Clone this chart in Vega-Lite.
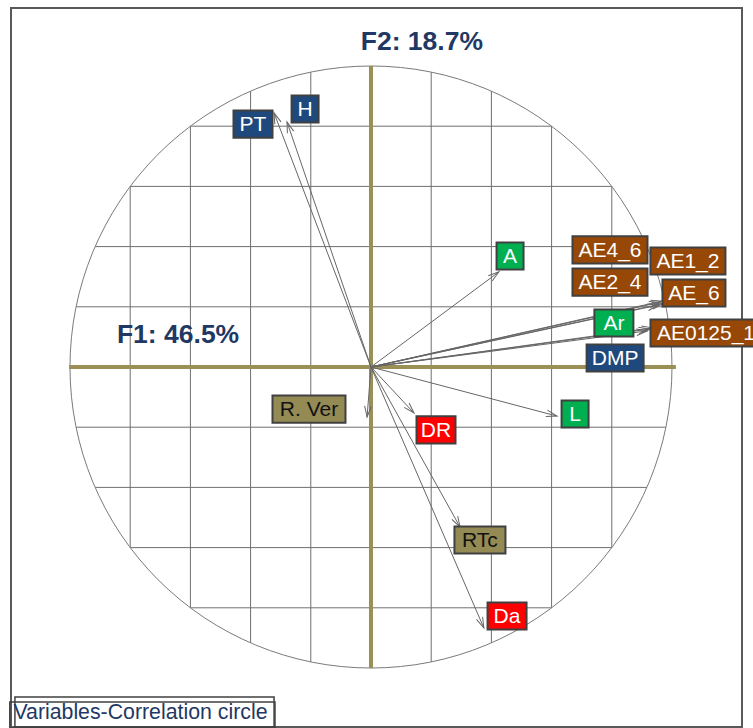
{
  "$schema": "https://vega.github.io/schema/vega-lite/v6.json",
  "width": 731,
  "height": 719,
  "autosize": {"type": "none"},
  "padding": {"left": 11, "top": 8, "right": 11, "bottom": 1},
  "background": "white",
  "config": {"view": {"stroke": "#595959", "strokeWidth": 2}},
  "datasets": {
    "vars": [
      {"label": "PT", "x": -0.322, "y": 0.844, "lx": -0.392, "ly": 0.807, "group": "G1"},
      {"label": "H", "x": -0.279, "y": 0.814, "lx": -0.219, "ly": 0.857, "group": "G1"},
      {"label": "A", "x": 0.425, "y": 0.316, "lx": 0.462, "ly": 0.369, "group": "G2"},
      {"label": "AE4_6", "x": 0.960, "y": 0.215, "lx": 0.794, "ly": 0.389, "group": "G3"},
      {"label": "AE1_2", "x": 0.966, "y": 0.219, "lx": 1.053, "ly": 0.352, "group": "G3"},
      {"label": "AE2_4", "x": 0.955, "y": 0.206, "lx": 0.794, "ly": 0.282, "group": "G3"},
      {"label": "AE_6", "x": 0.970, "y": 0.211, "lx": 1.073, "ly": 0.246, "group": "G3"},
      {"label": "Ar", "x": 0.925, "y": 0.126, "lx": 0.807, "ly": 0.146, "group": "G2"},
      {"label": "AE0125_1", "x": 0.935, "y": 0.130, "lx": 1.113, "ly": 0.113, "group": "G3"},
      {"label": "DMP", "x": 0.918, "y": 0.120, "lx": 0.811, "ly": 0.030, "group": "G1"},
      {"label": "L", "x": 0.618, "y": -0.163, "lx": 0.678, "ly": -0.156, "group": "G2"},
      {"label": "R. Ver", "x": -0.013, "y": -0.166, "lx": -0.206, "ly": -0.140, "group": "G4"},
      {"label": "DR", "x": 0.143, "y": -0.153, "lx": 0.216, "ly": -0.209, "group": "G5"},
      {"label": "RTc", "x": 0.296, "y": -0.532, "lx": 0.362, "ly": -0.575, "group": "G4"},
      {"label": "Da", "x": 0.375, "y": -0.867, "lx": 0.452, "ly": -0.827, "group": "G5"}
    ],
    "grid": [
      {"x1": -0.8, "x2": -0.8, "y1": -0.6, "y2": 0.6},
      {"x1": -0.6, "x2": -0.6, "y1": -0.8, "y2": 0.8},
      {"x1": -0.4, "x2": -0.4, "y1": -0.9165, "y2": 0.9165},
      {"x1": -0.2, "x2": -0.2, "y1": -0.9798, "y2": 0.9798},
      {"x1": 0.2, "x2": 0.2, "y1": -0.9798, "y2": 0.9798},
      {"x1": 0.4, "x2": 0.4, "y1": -0.9165, "y2": 0.9165},
      {"x1": 0.6, "x2": 0.6, "y1": -0.8, "y2": 0.8},
      {"x1": 0.8, "x2": 0.8, "y1": -0.6, "y2": 0.6},
      {"y1": -0.8, "y2": -0.8, "x1": -0.6, "x2": 0.6},
      {"y1": -0.6, "y2": -0.6, "x1": -0.8, "x2": 0.8},
      {"y1": -0.4, "y2": -0.4, "x1": -0.9165, "x2": 0.9165},
      {"y1": -0.2, "y2": -0.2, "x1": -0.9798, "x2": 0.9798},
      {"y1": 0.2, "y2": 0.2, "x1": -0.9798, "x2": 0.9798},
      {"y1": 0.4, "y2": 0.4, "x1": -0.9165, "x2": 0.9165},
      {"y1": 0.6, "y2": 0.6, "x1": -0.8, "x2": 0.8},
      {"y1": 0.8, "y2": 0.8, "x1": -0.6, "x2": 0.6}
    ],
    "axes": [
      {"x1": -1.003, "x2": 1.013, "y1": 0, "y2": 0},
      {"x1": 0, "x2": 0, "y1": -1.0, "y2": 1.0}
    ],
    "titles": [
      {"text": "F2: 18.7%", "x": 0.169, "y": 1.080},
      {"text": "F1: 46.5%", "x": -0.641, "y": 0.106}
    ],
    "caption": [
      {"text": "Variables-Correlation circle", "x": -1.188, "y": -1.150}
    ],
    "capbox": [
      {"x1": -1.183, "x2": -0.322, "y1": -1.096, "y2": -1.196},
      {"x1": -1.2, "x2": -0.319, "y1": -1.113, "y2": -1.199}
    ],
    "origin": [{"x": 0, "y": 0}]
  },
  "layer": [
    {
      "data": {"name": "grid"},
      "mark": {"type": "rule", "color": "#6f6f6f", "strokeWidth": 1},
      "encoding": {
        "x": {"field": "x1", "type": "quantitative", "scale": {"domain": [-1.196, 1.2326], "nice": false, "zero": false}, "axis": null},
        "x2": {"field": "x2"},
        "y": {"field": "y1", "type": "quantitative", "scale": {"domain": [-1.196, 1.1927], "nice": false, "zero": false}, "axis": null},
        "y2": {"field": "y2"}
      }
    },
    {
      "data": {"name": "origin"},
      "mark": {"type": "point", "shape": "circle", "filled": false, "stroke": "#7a7a7a", "strokeWidth": 1, "size": 362404, "opacity": 1},
      "encoding": {
        "x": {"field": "x", "type": "quantitative", "scale": {"domain": [-1.196, 1.2326], "nice": false, "zero": false}, "axis": null},
        "y": {"field": "y", "type": "quantitative", "scale": {"domain": [-1.196, 1.1927], "nice": false, "zero": false}, "axis": null}
      }
    },
    {
      "data": {"name": "axes"},
      "mark": {"type": "rule", "color": "#9b8f58", "strokeWidth": 4},
      "encoding": {
        "x": {"field": "x1", "type": "quantitative", "scale": {"domain": [-1.196, 1.2326], "nice": false, "zero": false}, "axis": null},
        "x2": {"field": "x2"},
        "y": {"field": "y1", "type": "quantitative", "scale": {"domain": [-1.196, 1.1927], "nice": false, "zero": false}, "axis": null},
        "y2": {"field": "y2"}
      }
    },
    {
      "data": {"name": "vars"},
      "transform": [{"calculate": "0", "as": "x0"}, {"calculate": "0", "as": "y0"}],
      "mark": {"type": "rule", "color": "#666666", "strokeWidth": 1},
      "encoding": {
        "x": {"field": "x0", "type": "quantitative", "scale": {"domain": [-1.196, 1.2326], "nice": false, "zero": false}, "axis": null},
        "x2": {"field": "x"},
        "y": {"field": "y0", "type": "quantitative", "scale": {"domain": [-1.196, 1.1927], "nice": false, "zero": false}, "axis": null},
        "y2": {"field": "y"}
      }
    },
    {
      "data": {"name": "vars"},
      "transform": [{"calculate": "atan2(-datum.y, datum.x) * 180 / PI", "as": "ang"}],
      "mark": {"type": "point", "shape": "M-1.8,-0.55L0,0L-1.8,0.55", "filled": false, "stroke": "#666666", "strokeWidth": 1, "size": 144, "opacity": 1},
      "encoding": {
        "x": {"field": "x", "type": "quantitative", "scale": {"domain": [-1.196, 1.2326], "nice": false, "zero": false}, "axis": null},
        "y": {"field": "y", "type": "quantitative", "scale": {"domain": [-1.196, 1.1927], "nice": false, "zero": false}, "axis": null},
        "angle": {"field": "ang", "type": "quantitative", "scale": null}
      }
    },
    {
      "data": {"name": "vars"},
      "transform": [
        {"calculate": "length(replace(datum.label, /[. ]/g, ''))", "as": "nw"},
        {"calculate": "length(datum.label) - datum.nw", "as": "nn"},
        {"calculate": "length(datum.label) - length(replace(datum.label, /[MW]/g, ''))", "as": "nm"},
        {"calculate": "(12 * datum.nw + 5 * datum.nn + 6 * datum.nm + 15) / 301", "as": "bw"},
        {"calculate": "datum.lx - datum.bw / 2", "as": "bx1"},
        {"calculate": "datum.lx + datum.bw / 2", "as": "bx2"},
        {"calculate": "datum.ly - 0.045", "as": "by1"},
        {"calculate": "datum.ly + 0.045", "as": "by2"}
      ],
      "mark": {"type": "rect", "stroke": "#404040", "strokeWidth": 2},
      "encoding": {
        "x": {"field": "bx1", "type": "quantitative", "scale": {"domain": [-1.196, 1.2326], "nice": false, "zero": false}, "axis": null},
        "x2": {"field": "bx2"},
        "y": {"field": "by1", "type": "quantitative", "scale": {"domain": [-1.196, 1.1927], "nice": false, "zero": false}, "axis": null},
        "y2": {"field": "by2"},
        "fill": {"field": "group", "type": "nominal", "legend": null,
          "scale": {"domain": ["G1", "G2", "G3", "G4", "G5"], "range": ["#1f497d", "#00b050", "#974806", "#948a54", "#ff0000"]}}
      }
    },
    {
      "data": {"name": "vars"},
      "mark": {"type": "text", "font": "Liberation Sans", "fontSize": 21, "align": "center", "baseline": "middle", "dy": 1},
      "encoding": {
        "x": {"field": "lx", "type": "quantitative", "scale": {"domain": [-1.196, 1.2326], "nice": false, "zero": false}, "axis": null},
        "y": {"field": "ly", "type": "quantitative", "scale": {"domain": [-1.196, 1.1927], "nice": false, "zero": false}, "axis": null},
        "text": {"field": "label"},
        "color": {"field": "group", "type": "nominal", "legend": null,
          "scale": {"domain": ["G1", "G2", "G3", "G4", "G5"], "range": ["#ffffff", "#ffffff", "#ffffff", "#111111", "#ffffff"]}}
      }
    },
    {
      "data": {"name": "titles"},
      "mark": {"type": "text", "font": "Liberation Sans", "fontSize": 26.5, "fontWeight": "bold", "align": "center", "baseline": "middle", "color": "#1f3864"},
      "encoding": {
        "x": {"field": "x", "type": "quantitative", "scale": {"domain": [-1.196, 1.2326], "nice": false, "zero": false}, "axis": null},
        "y": {"field": "y", "type": "quantitative", "scale": {"domain": [-1.196, 1.1927], "nice": false, "zero": false}, "axis": null},
        "text": {"field": "text"}
      }
    },
    {
      "data": {"name": "capbox"},
      "mark": {"type": "rect", "fill": "white", "fillOpacity": 0, "stroke": "#404040", "strokeWidth": 1.5},
      "encoding": {
        "x": {"field": "x1", "type": "quantitative", "scale": {"domain": [-1.196, 1.2326], "nice": false, "zero": false}, "axis": null},
        "x2": {"field": "x2"},
        "y": {"field": "y1", "type": "quantitative", "scale": {"domain": [-1.196, 1.1927], "nice": false, "zero": false}, "axis": null},
        "y2": {"field": "y2"}
      }
    },
    {
      "data": {"name": "caption"},
      "mark": {"type": "text", "font": "Liberation Sans", "fontSize": 21.3, "align": "left", "baseline": "middle", "color": "#1f3864"},
      "encoding": {
        "x": {"field": "x", "type": "quantitative", "scale": {"domain": [-1.196, 1.2326], "nice": false, "zero": false}, "axis": null},
        "y": {"field": "y", "type": "quantitative", "scale": {"domain": [-1.196, 1.1927], "nice": false, "zero": false}, "axis": null},
        "text": {"field": "text"}
      }
    }
  ]
}
